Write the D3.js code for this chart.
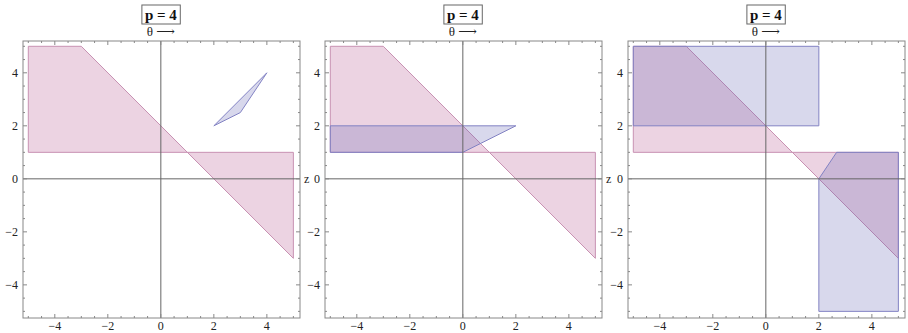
<!DOCTYPE html>
<html>
<head>
<meta charset="utf-8">
<script src="https://cdn.jsdelivr.net/npm/d3@7"></script>
<style>
  body { margin: 0; background: #fff; }
  svg { display: block; }
  text { font-family: "Liberation Serif", "DejaVu Serif", serif; }
</style>
</head>
<body>
<svg id="chart" width="908" height="333"></svg>
<script>
// panel titles
var titles = ["p = 4", "p = 4", "p = 4"];
var vLabel = "\u03b8 \u27f6";
var hLabel = "z";
var tickVals = [-4, -2, 0, 2, 4];

// regions, [theta, z] vertices
var pinkRegions = [
  [[-5, 5], [-3, 5], [5, -3], [5, 1], [-5, 1]],
  [[-5, 5], [-3, 5], [5, -3], [5, 1], [-5, 1]],
  [[-5, 5], [-3, 5], [5, -3], [5, 1], [-5, 1]]
];
var blueRegions = [
  [[[2, 2], [4, 4], [3, 2.5]]],
  [[[-5, 1], [0, 1], [2, 2], [-5, 2]]],
  [[[-5, 2], [2, 2], [2, 5], [-5, 5]],
   [[2, 0], [2.67, 1], [5, 1], [5, -5], [2, -5]]]
];

var svg = d3.select("#chart");
var panelLeft = [23, 325, 628];
var fw = 277, fTop = 41, fh = 277;

for (var p = 0; p < 3; p++) {
  var x = d3.scaleLinear().domain([-5.2, 5.25]).range([panelLeft[p], panelLeft[p] + fw]);
  var y = d3.scaleLinear().domain([-5.25, 5.2]).range([fTop + fh, fTop]);
  var g = svg.append("g");

  var line = d3.line().x(function(d){ return x(d[0]); }).y(function(d){ return y(d[1]); });

  g.append("path").attr("d", line(pinkRegions[p]) + "Z")
    .attr("fill", "rgb(180,80,140)").attr("fill-opacity", 0.25)
    .attr("fill-rule", "evenodd")
    .attr("stroke", "rgb(200,145,178)").attr("stroke-width", 1);

  blueRegions[p].forEach(function(r){
    g.append("path").attr("d", line(r) + "Z")
      .attr("fill", "rgb(100,100,180)").attr("fill-opacity", 0.25)
      .attr("stroke", "rgb(130,130,195)").attr("stroke-width", 1);
  });

  // axes through origin
  g.append("line").attr("x1", x(0)).attr("x2", x(0)).attr("y1", fTop).attr("y2", fTop + fh)
    .attr("stroke", "#666").attr("stroke-width", 1);
  g.append("line").attr("x1", panelLeft[p]).attr("x2", panelLeft[p] + fw).attr("y1", y(0)).attr("y2", y(0))
    .attr("stroke", "#666").attr("stroke-width", 1);

  // frame
  g.append("rect").attr("x", panelLeft[p]).attr("y", fTop).attr("width", fw).attr("height", fh)
    .attr("fill", "none").attr("stroke", "#888").attr("stroke-width", 1);

  var minor = d3.range(-5, 5.01, 0.5);
  minor.forEach(function(v){
    var major = (v % 2 === 0);
    var len = major ? 4 : 2;
    g.append("line").attr("x1", x(v)).attr("x2", x(v)).attr("y1", fTop + fh).attr("y2", fTop + fh - len).attr("stroke", "#888");
    g.append("line").attr("x1", x(v)).attr("x2", x(v)).attr("y1", fTop).attr("y2", fTop + len).attr("stroke", "#888");
    g.append("line").attr("y1", y(v)).attr("y2", y(v)).attr("x1", panelLeft[p]).attr("x2", panelLeft[p] + len).attr("stroke", "#888");
    g.append("line").attr("y1", y(v)).attr("y2", y(v)).attr("x1", panelLeft[p] + fw).attr("x2", panelLeft[p] + fw - len).attr("stroke", "#888");
  });

  tickVals.forEach(function(v){
    g.append("text").attr("x", x(v)).attr("y", fTop + fh + 12).attr("text-anchor", "middle")
      .attr("font-size", 12).attr("fill", "#222").text(v < 0 ? "\u2212" + Math.abs(v) : v);
    g.append("text").attr("x", panelLeft[p] - 5).attr("y", y(v) + 4).attr("text-anchor", "end")
      .attr("font-size", 12).attr("fill", "#222").text(v < 0 ? "\u2212" + Math.abs(v) : v);
  });

  // the last panel's z label falls outside the picture in the reference
  if (p < 2) {
    g.append("text").attr("x", panelLeft[p] + fw + 4).attr("y", y(0) + 4)
      .attr("font-size", 12).attr("fill", "#222").text(hLabel);
  }

  // title
  var tx = x(0);
  var t = g.append("text").attr("x", tx).attr("y", 20).attr("text-anchor", "middle")
    .attr("font-size", 15).attr("font-weight", "bold").attr("fill", "#111").text(titles[p]);
  var bb = t.node().getBBox();
  g.insert("rect", "text:last-of-type").attr("x", bb.x - 3).attr("y", 5).attr("width", bb.width + 6).attr("height", 19)
    .attr("fill", "none").attr("stroke", "#666").attr("stroke-width", 1);
  g.append("text").attr("x", tx).attr("y", 36).attr("text-anchor", "middle")
    .attr("font-size", 13).attr("fill", "#222").text(vLabel);
}
</script>
</body>
</html>
